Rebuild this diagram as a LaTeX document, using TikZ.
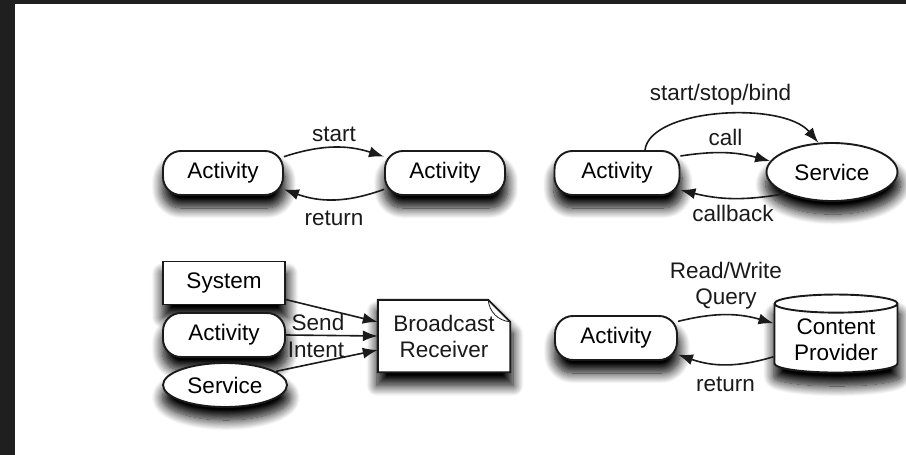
\documentclass[tikz,border=0pt]{standalone}
\usepackage{fontspec}
\setmainfont{Liberation Sans}
\usetikzlibrary{arrows.meta,shapes.geometric,shadows.blur}
\definecolor{framedark}{HTML}{1F1F1F}
\definecolor{inkdark}{HTML}{1A1A1A}

\begin{document}
\begin{tikzpicture}[
    x=1pt, y=1pt,
    font=\fontsize{22.5}{26}\selectfont,
    softshadow/.style={blur shadow={shadow xshift=1pt, shadow yshift=-12pt, shadow scale=1.03,
        shadow blur radius=10pt, shadow blur steps=14, shadow opacity=100}},
    pill/.style={draw=inkdark, line width=1.9pt, fill=white, rounded corners=18pt,
        minimum width=120pt, minimum height=44pt, softshadow},
    oval/.style={draw=inkdark, line width=1.9pt, fill=white, ellipse, inner sep=0pt, softshadow},
    sysbox/.style={draw=inkdark, line width=1.9pt, fill=white,
        minimum width=122pt, minimum height=43pt, softshadow},
    drum/.style={draw=inkdark, line width=1.9pt, fill=white, cylinder, shape border rotate=90,
        aspect=0.2, minimum width=123pt, minimum height=78pt, align=center, softshadow},
    conn/.style={-{Latex[length=15pt,width=11pt]}, line width=1.6pt, draw=inkdark},
    lbl/.style={text=inkdark, align=center, inner sep=1pt},
  ]
  % dark strips of the screenshot
  \fill[framedark] (0,0) rectangle (15,-455);
  \fill[framedark] (0,0) rectangle (906,-4);
  \useasboundingbox (0,0) rectangle (906,-455);

  % activity starts activity
  \node[pill] (act1) at (223,-173) {Activity};
  \node[pill] (act2) at (445,-173) {Activity};
  \draw[conn] (act1.15) to[bend left=18] node[lbl, above=4pt] (lstart) {start} (act2.165);
  \draw[conn] (act2.195) to[bend left=20] node[lbl, below=10pt] (lret1) {return} (act1.-15);

  % activity and service
  \node[pill, minimum width=125pt] (act3) at (617,-173) {Activity};
  \node[oval, minimum width=131pt, minimum height=58pt] (srv1) at (832,-172) {Service};
  \draw[conn] ([xshift=28pt]act3.north) .. controls +(5,42) and +(-35,42) ..
    node[lbl, above=8pt] (lbind) {start/stop/bind} (srv1.115);
  \draw[conn] (act3.15) to[bend left=12] node[lbl, above=6pt] (lcall) {call} (srv1.170);
  \draw[conn] (srv1.205) to[bend left=12] node[lbl, below=5pt] (lcb) {callback} (act3.-15);

  % senders of a broadcast intent
  \node[sysbox] (sys) at (224,-283) {System};
  \node[pill, minimum width=122pt] (act4) at (224,-335) {Activity};
  \node[oval, minimum width=124pt, minimum height=44pt] (srv2) at (225,-385) {Service};
  \node[minimum width=132pt, minimum height=72pt] (brbox) at (444,-336) {};
  \draw[softshadow, fill=white, draw=inkdark, line width=1.9pt]
    (brbox.north west) -- ([xshift=-22pt]brbox.north east)
    -- ([yshift=-22pt]brbox.north east) -- (brbox.south east)
    -- (brbox.south west) -- cycle;
  \draw[inkdark, line width=0.8pt]
    ([xshift=-22pt]brbox.north east) to[bend right=40] ([yshift=-22pt]brbox.north east);
  \node[lbl] (br) at (brbox) {Broadcast\\Receiver};
  \draw[conn] (sys.-15) -- ([yshift=14pt]brbox.west);
  \draw[conn] (act4.east) -- (brbox.west);
  \draw[conn] (srv2.15) -- ([yshift=-14pt]brbox.west);
  \node[lbl] (lsend) at (318,-322) {Send};
  \node[lbl] (lintent) at (316,-350) {Intent};

  % activity and content provider
  \node[pill, minimum width=122pt] (act5) at (616,-338) {Activity};
  \node[drum] (cp) at (836,-340) {Content\\Provider};
  \draw[conn] (act5.15) to[bend left=15] node[lbl, above=4pt] (lrw) {Read/Write\\Query} (cp.165);
  \draw[conn] (cp.195) to[bend left=18] node[lbl, below=11pt] (lret2) {return} (act5.-15);
\end{tikzpicture}
\end{document}
